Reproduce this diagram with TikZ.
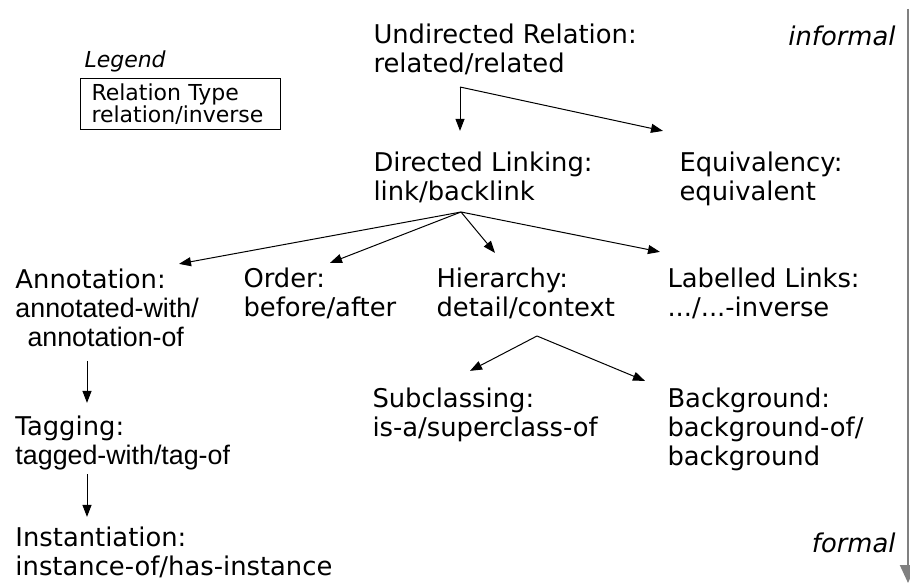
\documentclass[tikz,border=0pt]{standalone}
\usepackage{fontspec}
\setmainfont{DejaVu Sans}[ItalicFont={DejaVu Sans Oblique}]
\newfontfamily\arialfont{Liberation Sans}
\newcommand\tagfont{\arialfont\fontsize{13.4pt}{14.5pt}\selectfont}
\usetikzlibrary{arrows.meta}

\begin{document}
\begin{tikzpicture}[x=0.5pt, y=-0.5pt, line width=0.5pt,
  >={Triangle[length=6pt,width=4.5pt]},
  rel/.style={anchor=base west, align=left, inner sep=2pt, font=\fontsize{12.9pt}{14.5pt}\selectfont},
  side/.style={anchor=base east, inner sep=2pt, font=\fontsize{12.9pt}{14.5pt}\selectfont\itshape}]
\path[use as bounding box] (0,0) rectangle (910,583);
% legend
\node[anchor=base west, inner sep=2pt, font=\fontsize{11pt}{11pt}\selectfont\itshape] (LG) at (80,68) {Legend};
\node[draw, anchor=north west, align=left, text width=89pt, inner xsep=5.5pt, inner ysep=2.6pt,
  font=\fontsize{11pt}{11pt}\selectfont] (LB) at (80,78) {Relation Type\\relation/inverse};
% relation types (placed at the baseline of their last line)
\node[rel] (UR) at (369,73) {Undirected Relation:\\related/related};
\node[rel] (DL) at (369,200) {Directed Linking:\\link/backlink};
\node[rel] (EQ) at (675,200) {Equivalency:\\equivalent};
\node[rel] (AN) at (11,346) {Annotation:\\{\tagfont annotated-with/}\\{\tagfont\hspace*{6pt}annotation-of}};
\node[rel] (OR) at (239,316) {Order:\\before/after};
\node[rel] (HI) at (432,316) {Hierarchy:\\detail/context};
\node[rel] (LL) at (663,316) {Labelled Links:\\.../...-inverse};
\node[rel] (SC) at (368,436) {Subclassing:\\is-a/superclass-of};
\node[rel] (BG) at (663,465) {Background:\\background-of/\\background};
\node[rel] (TG) at (11,464) {Tagging:\\{\tagfont tagged-with/tag-of}};
\node[rel] (IN) at (11,575) {Instantiation:\\instance-of/has-instance};
% scale
\node[side] (INF) at (900,46) {informal};
\node[side] (FRM) at (900,552) {formal};
\coordinate (top) at (908,9);
\coordinate (bot) at (908,583);
\draw[gray, line width=1pt, -{Triangle[length=9pt,width=8pt]}] (top) -- (bot);
% forks
\coordinate (URfork) at (460,87);
\coordinate (DLfork) at (461,212);
\coordinate (HIfork) at (537,336);
\draw[->] (URfork) -- ([shift={(91,-16)}]DL.north west);
\draw[->] (URfork) -- ([shift={(-12,-16)}]EQ.north west);
\draw[->] (DLfork) -- ([shift={(168,0)}]AN.north west);
\draw[->] (DLfork) -- ([shift={(91,0)}]OR.north west);
\draw[->] (DLfork) -- ([shift={(63,-10)}]HI.north west);
\draw[->] (DLfork) -- ([shift={(-3,-11)}]LL.north west);
\draw[->] (HIfork) -- ([shift={(102,-12)}]SC.north west);
\draw[->] (HIfork) -- ([shift={(-18,-2)}]BG.north west);
\draw[->] ([shift={(76,10)}]AN.south west) -- ([shift={(76,-8)}]TG.north west);
\draw[->] ([shift={(76,0)}]TG.south west) -- ([shift={(76,-5)}]IN.north west);
\end{tikzpicture}
\end{document}
